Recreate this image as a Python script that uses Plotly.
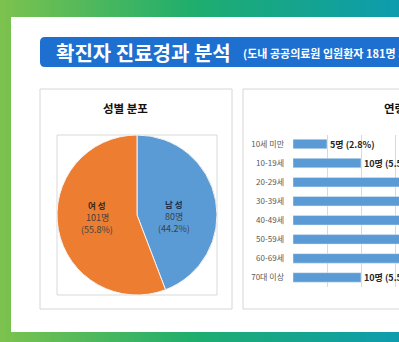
import plotly.graph_objects as go

W, H = 399, 342
FONT = "Noto Sans CJK KR"

# ---- data ----
sex_labels = ["남성", "여성"]
sex_label_disp = ["남 성", "여 성"]
sex_values = [80, 101]
sex_colors = ["#5b9bd5", "#ed7d31"]

age_labels = ["10세 미만", "10-19세", "20-29세", "30-39세", "40-49세", "50-59세", "60-69세", "70대 이상"]
age_values = [5, 10, 39, 22, 30, 38, 27, 10]
total = 181

title_main = "확진자 진료경과 분석"
title_sub = "(도내 공공의료원 입원환자 181명 기준)"
pie_title = "성별 분포"
bar_title = "연령별 분포"


def px(x):
    return x / W


def py(y):
    return 1 - y / H


def lerp(c1, c2, t):
    a = [int(c1[i:i + 2], 16) for i in (1, 3, 5)]
    b = [int(c2[i:i + 2], 16) for i in (1, 3, 5)]
    return "#%02x%02x%02x" % tuple(round(a[k] + (b[k] - a[k]) * t) for k in range(3))


shapes = []
# gradient background strips
stops = [(0, "#7cc24e"), (190, "#1fae6c"), (399, "#0c9cae")]
step = 5
for x0 in range(0, W, step):
    xc = x0 + step / 2
    for (a, ca), (b, cb) in zip(stops[:-1], stops[1:]):
        if a <= xc <= b:
            col = lerp(ca, cb, (xc - a) / (b - a))
            break
    shapes.append(dict(type="rect", xref="paper", yref="paper", x0=px(x0), x1=px(x0 + step + 0.5),
                       y0=0, y1=1, fillcolor=col, line_width=0, layer="below"))

# white main panel
shapes.append(dict(type="rect", xref="paper", yref="paper", x0=px(11), x1=px(420), y0=py(332), y1=py(17),
                   fillcolor="white", line_width=0, layer="below"))

# blue rounded title bar
x0, x1, y0, y1, r = 40, 430, 37, 67, 5
path = (f"M {px(x0 + r)},{py(y0)} L {px(x1 - r)},{py(y0)} Q {px(x1)},{py(y0)} {px(x1)},{py(y0 + r)} "
        f"L {px(x1)},{py(y1 - r)} Q {px(x1)},{py(y1)} {px(x1 - r)},{py(y1)} L {px(x0 + r)},{py(y1)} "
        f"Q {px(x0)},{py(y1)} {px(x0)},{py(y1 - r)} L {px(x0)},{py(y0 + r)} Q {px(x0)},{py(y0)} {px(x0 + r)},{py(y0)} Z")
shapes.append(dict(type="path", xref="paper", yref="paper", path=path, fillcolor="#1d6fd0",
                   line_width=0, layer="below"))

# sub panels
for (a, b) in [(40, 232), (243, 460)]:
    shapes.append(dict(type="rect", xref="paper", yref="paper", x0=px(a), x1=px(b), y0=py(309), y1=py(89),
                       fillcolor="white", line=dict(color="#d6d6d6", width=1), layer="below"))
# pie plot-area box
shapes.append(dict(type="rect", xref="paper", yref="paper", x0=px(57), x1=px(217), y0=py(295), y1=py(135),
                   fillcolor="white", line=dict(color="#d9d9d9", width=1), layer="below"))

fig = go.Figure()

fig.add_trace(go.Pie(
    labels=sex_labels, values=sex_values, sort=False, direction="clockwise", rotation=0,
    marker=dict(colors=sex_colors, line=dict(color="#f2f2f2", width=1)),
    textinfo="none", hoverinfo="label+value+percent",
    domain=dict(x=[px(57), px(217)], y=[py(295), py(135)]),
    showlegend=False,
))

bar_text = [f"{v}명 ({v / total * 100:.1f}%)" for v in age_values]
fig.add_trace(go.Bar(
    x=age_values, y=age_labels, orientation="h", width=0.5,
    marker=dict(color="#5b9bd5"),
    text=bar_text, textposition="outside", cliponaxis=False, constraintext="none",
    textfont=dict(family=FONT, size=9, color="#262626", weight="bold"),
    showlegend=False,
))


def ann(text, x, y, size, color, weight="normal", xanchor="center"):
    return dict(text=text, x=px(x), y=py(y), xref="paper", yref="paper", xanchor=xanchor, yanchor="middle",
                showarrow=False, font=dict(family=FONT, size=size, color=color, weight=weight))


annotations = [
    ann(title_main, 54, 52, 20, "white", "bold", "left"),
    ann(title_sub, 241, 53, 11, "white", "bold", "left"),
    ann(pie_title, 125, 108, 11.5, "#111111", "bold"),
    ann(bar_title, 382, 108, 11.5, "#111111", "bold", "left"),
]

# pie slice labels
label_pos = {"남성": (174, 204), "여성": (97, 205)}
for lab, disp, v, col in zip(sex_labels, sex_label_disp, sex_values, ["#1f2f4f", "#3a2a1a"]):
    cx, cy = label_pos[lab]
    annotations.append(ann(disp, cx, cy, 8.5, col, "bold"))
    annotations.append(ann(f"{v}명", cx, cy + 12, 9, "#404040"))
    annotations.append(ann(f"({v / total * 100:.1f}%)", cx, cy + 24, 9, "#404040"))

fig.update_layout(
    width=W, height=H, margin=dict(l=0, r=0, t=0, b=0),
    paper_bgcolor="white", plot_bgcolor="rgba(0,0,0,0)",
    shapes=shapes, annotations=annotations,
    xaxis=dict(domain=[px(293), 1], range=[0, 106 / 6.8], dtick=5, tick0=0, showgrid=True,
               gridcolor="#d9d9d9", gridwidth=1, zeroline=False, showticklabels=False, showline=False,
               fixedrange=True),
    yaxis=dict(domain=[py(287), py(134.5)], autorange="reversed", showgrid=False, zeroline=False,
               showline=False, ticks="", ticklabelstandoff=8,
               tickfont=dict(family=FONT, size=8, color="#595959"), fixedrange=True),
    font=dict(family=FONT),
)

fig.write_html("out.html")
